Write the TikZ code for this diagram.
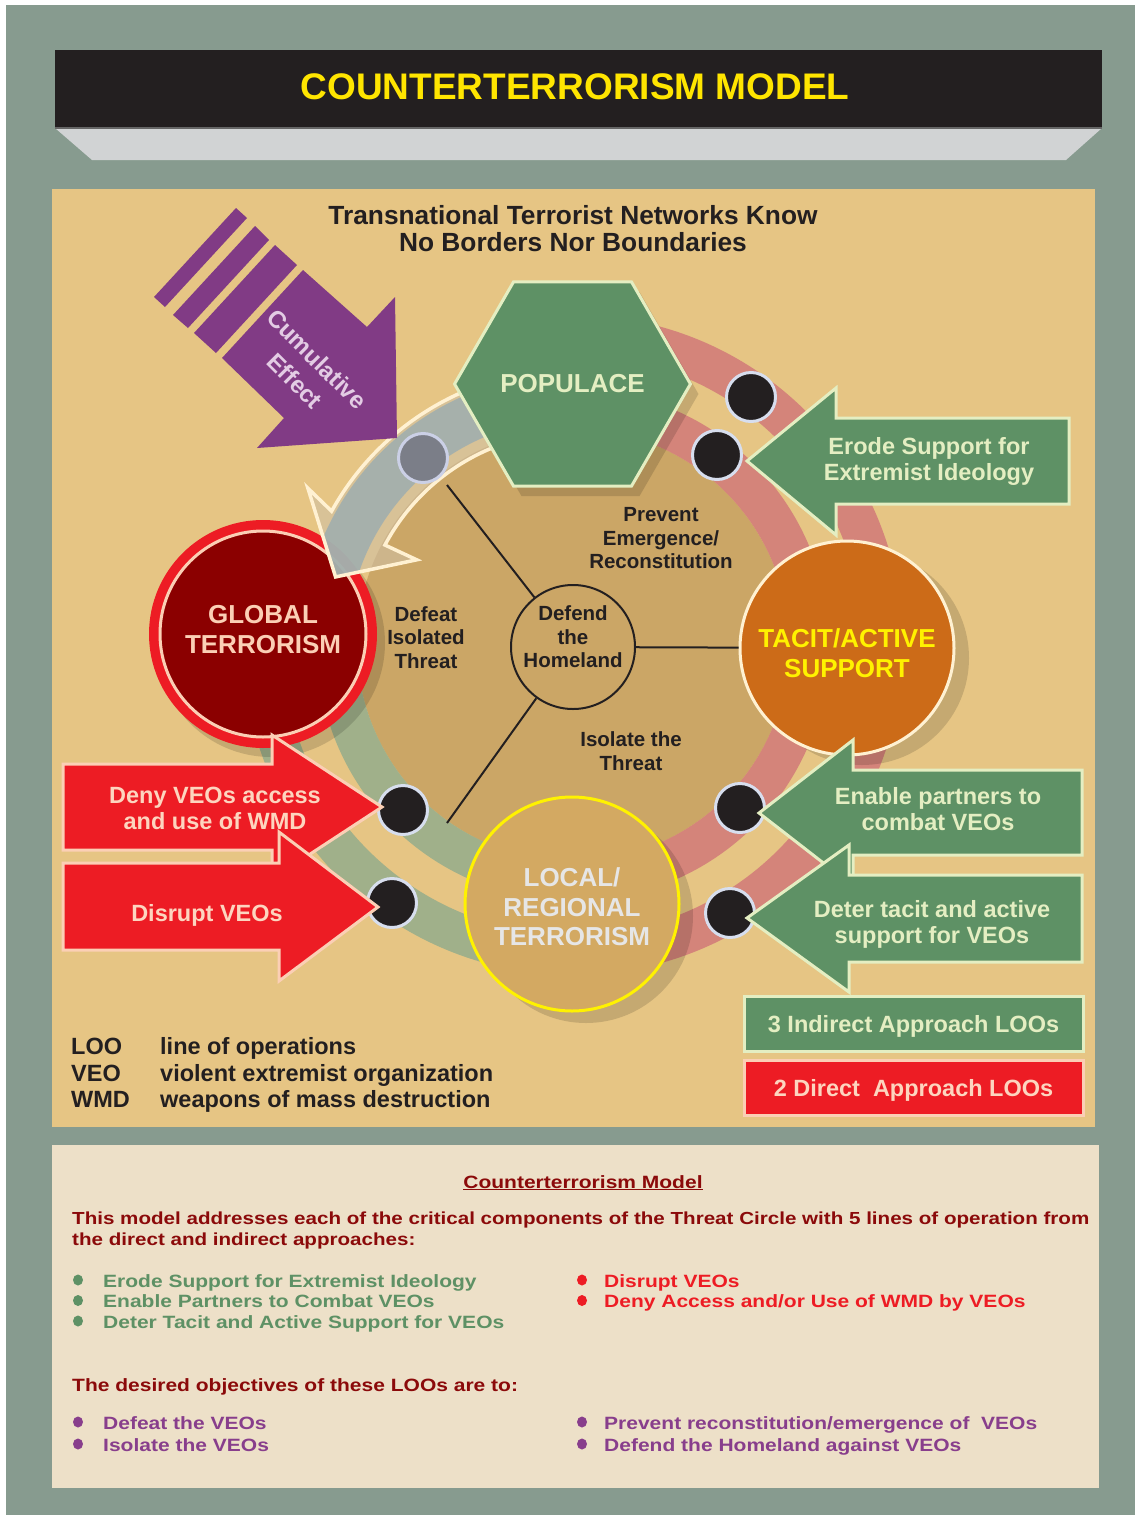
\documentclass[tikz,border=0pt]{standalone}
\usepackage{fontspec}
\setmainfont{Liberation Sans}
\newfontfamily\widefont[FakeStretch=1.18]{Liberation Sans}
\usetikzlibrary{shapes.geometric,shadows}

\definecolor{frame}{HTML}{879B8F}
\definecolor{ink}{HTML}{231F20}
\definecolor{titleyellow}{HTML}{FFE500}
\definecolor{ledge}{HTML}{D1D3D4}
\definecolor{sand}{HTML}{E6C584}
\definecolor{darksand}{HTML}{CBA666}
\definecolor{paper}{HTML}{EDE0C8}
\definecolor{pinkband}{HTML}{D4847A}
\definecolor{greenband}{HTML}{A0B08A}
\definecolor{blueband}{HTML}{A1AFAE}
\definecolor{veil}{HTML}{CFC0A5}
\definecolor{cream}{HTML}{FFF1D2}
\definecolor{leaf}{HTML}{5E9165}
\definecolor{pale}{HTML}{E4EEC2}
\definecolor{rust}{HTML}{CC6B18}
\definecolor{lemon}{HTML}{FFF200}
\definecolor{ochre}{HTML}{D3A962}
\definecolor{silver}{HTML}{E6E6E6}
\definecolor{blood}{HTML}{8B0000}
\definecolor{scarlet}{HTML}{ED1C24}
\definecolor{peach}{HTML}{FBCFB5}
\definecolor{blush}{HTML}{FDD5BF}
\definecolor{rim}{HTML}{D7DEEE}
\definecolor{slate}{HTML}{7B7E88}
\definecolor{slaterim}{HTML}{CBD0E6}
\definecolor{plum}{HTML}{813B85}
\definecolor{lilac}{HTML}{E3CCE4}
\definecolor{darkred}{HTML}{8B0A0A}
\definecolor{grape}{HTML}{883E8C}

\newcommand{\fsz}[2]{\fontsize{#1}{#2}\selectfont\bfseries}
\newcommand{\cumpath}{(252:276) arc[start angle=252, end angle=209, radius=276] -- (210.6:308) -- (196:247) -- (208.6:178) -- (208:213) arc[start angle=208, end angle=252, radius=213] -- cycle}

\tikzset{
  ringband/.style={line width=40},
  blackdot/.style={circle, fill=ink, draw=rim, line width=3, minimum size=49, inner sep=0},
  slatedot/.style={circle, fill=slate, draw=slaterim, line width=3, minimum size=49, inner sep=0},
  midtxt/.style={font=\fsz{20.5}{23.5}, text=ink, align=center, inner sep=0},
  arrtxt/.style={font=\fsz{23.5}{26}, align=center, inner sep=0},
  bigtxt/.style={font=\fsz{26}{29.5}, align=center, inner sep=0},
  capline/.style={text height=17pt, text depth=0pt},
  shade/.style 2 args={drop shadow={shadow xshift=#1pt, shadow yshift=-#2pt, opacity=.14, fill=black}},
  hexa/.style={regular polygon, regular polygon sides=6, minimum size=222, inner sep=0, outer sep=0, fill=leaf, draw=pale, line width=3, text=pale, bigtxt},
  tacitnode/.style={circle, minimum size=214, inner sep=0, fill=rust, draw=cream, line width=3},
  localnode/.style={circle, minimum size=214, inner sep=0, fill=ochre, draw=lemon, line width=3},
  globenode/.style={circle, minimum size=228, inner sep=0, fill=scarlet,
    path picture={\draw[peach, line width=3, fill=blood] (path picture bounding box.center) circle[radius=103];}},
  redarrow/.style={fill=scarlet, draw=peach, line width=3},
  greenarrow/.style={fill=leaf, draw=pale, line width=3},
  thinline/.style={draw=ink, line width=2},
  bottomtxt/.style={font=\widefont\fsz{17.8}{20.5}, align=left, inner sep=0}
}

\begin{document}
\begin{tikzpicture}[x=1pt,y=-1pt]
%cornice
\fill[white] (0,0) rectangle (1135,1515);
\fill[frame] (6,5) rectangle (1135,1515);
%titolo
\fill[ledge] (55,128) -- (1102,128) -- (1066,160) -- (92,160) -- cycle;
\fill[ink] (55,50) rectangle (1102,128);
\draw[black!60, line width=1.5] (55,128) -- (1102,128);
\node[font=\fsz{37}{40}, text=titleyellow] (title) at (575,87) {COUNTERTERRORISM MODEL};
%pannelli
\fill[sand] (52,189) rectangle (1095,1127);
\fill[paper] (52,1145) rectangle (1099,1488);

%anelli
\begin{scope}[shift={(573,645)}]
  \fill[darksand] (0,0) circle[radius=216];
  \draw[ringband, pinkband] (-95:236) arc[start angle=-95, end angle=95, radius=236];
  \draw[ringband, pinkband] (-95:310) arc[start angle=-95, end angle=95, radius=310];
  \draw[ringband, greenband] (85:236) arc[start angle=85, end angle=185, radius=236];
  \draw[ringband, greenband] (85:310) arc[start angle=85, end angle=185, radius=310];
\end{scope}

%centro
\node[circle, draw=ink, line width=2, minimum size=124, inner sep=0,
  label={[midtxt, yshift=10pt]center:{Defend\\the\\Homeland}}] (defend) at (573,647) {};
\coordinate (defeatend) at (447,485);
\coordinate (isolateend) at (447,823);
\node[midtxt] (prevent) at (661,538.5) {Prevent\\Emergence/\\Reconstitution};
\node[midtxt] (defeat) at (426,637.5) {Defeat\\Isolated\\Threat};
\node[midtxt] (isolate) at (631,751) {Isolate the\\Threat};

%nodi
\node[tacitnode, shade={15}{10},
  label={[bigtxt, text=lemon, yshift=-5pt]center:{TACIT/ACTIVE\\SUPPORT}}] (tacit) at (847,648) {};
\node[localnode, shade={14}{12},
  label={[bigtxt, text=silver, yshift=-3pt]center:{LOCAL/\\REGIONAL\\TERRORISM}}] (local) at (572,904) {};
\node[globenode, shade={8}{9},
  label={[bigtxt, text=peach, yshift=4.5pt]center:{GLOBAL\\TERRORISM}}] (global) at (263,634) {};

%freccia curva
\begin{scope}[shift={(573,645)}]
  \fill[veil, fill opacity=.6] \cumpath;
  \begin{scope}
    \clip \cumpath;
    \draw[blueband, line width=46, opacity=.9] (255:249) arc[start angle=255, end angle=190, radius=249];
  \end{scope}
  \draw[cream, line width=3.5] \cumpath;
\end{scope}

\node[hexa, shade={8}{10}] (populace) at (572.5,384) {POPULACE};
\draw[thinline] (defend) -- (defeatend) (defend) -- (tacit) (defend) -- (isolateend);

%punti
\node[slatedot] (hub) at (423,458) {};
\node[blackdot] (popout) at (751,397) {};
\node[blackdot] (popin) at (717,455) {};
\node[blackdot] (tacitin) at (740,808) {};
\node[blackdot] (tacitout) at (730,913) {};
\node[blackdot] (globin) at (403,810) {};
\node[blackdot] (globout) at (392,903) {};

%frecce dirette
\draw[redarrow] (63,764) -- (272,764) -- (272,735) -- (382,807) -- (272,879) -- (272,850) -- (63,850) -- cycle;
\node[arrtxt, text=blush] (deny) at (215,808) {Deny VEOs access\\and use of WMD};
\draw[redarrow] (63,863) -- (279,863) -- (279,832) -- (378,907) -- (279,981) -- (279,950) -- (63,950) -- cycle;
\node[arrtxt, capline, text=blush] (disrupt) at (207,913) {Disrupt VEOs};

%frecce indirette
\draw[greenarrow] (747,461) -- (836,388) -- (836,418) -- (1069,418) -- (1069,504) -- (836,504) -- (836,535) -- cycle;
\node[arrtxt, text=pale] (erode) at (929,461.5) {Erode Support for\\Extremist Ideology};
\draw[greenarrow] (759,813) -- (853,740) -- (853,770) -- (1082,770) -- (1082,855) -- (853,855) -- (853,886) -- cycle;
\node[arrtxt, text=pale] (enable) at (938,809.5) {Enable partners to\\combat VEOs};
\draw[greenarrow] (747,918) -- (849,845) -- (849,875) -- (1082,875) -- (1082,962) -- (849,962) -- (849,992) -- cycle;
\node[arrtxt, text=pale] (deter) at (932,924) {Deter tacit and active\\support for VEOs};

%legenda
\node[rectangle, fill=leaf, draw=pale, line width=3, minimum width=339, minimum height=55,
  arrtxt, capline, text=pale] (indirect) at (913.5,1023.5) {3 Indirect Approach LOOs};
\node[rectangle, fill=scarlet, draw=peach, line width=3, minimum width=339, minimum height=55,
  arrtxt, capline, text=blush] (direct) at (913.5,1087.5) {2 Direct\ \ Approach LOOs};

%effetto cumulativo
\fill[plum] (236,208) -- (247,218) -- (165,307) -- (154,297) -- cycle;
\fill[plum] (255,226) -- (269,240) -- (188,328) -- (173,315) -- cycle;
\fill[plum] (275,245) -- (297,265) -- (216,353) -- (194,333) -- cycle;
\fill[plum] (303,270) -- (367,327) -- (395,297) -- (397,438) -- (257,448) -- (284,418) -- (222,358) -- cycle;
\node[font=\fsz{24}{31}, text=lilac, align=center, rotate=-45] (cumul) at (306,370) {Cumulative\\Effect};

%testi
\node[font=\fsz{26.3}{27}, text=ink, align=center, inner sep=0] (headline) at (573,228.5)
  {Transnational Terrorist Networks Know\\No Borders Nor Boundaries};
\node[anchor=west, font=\fsz{23.5}{26.5}, text=ink, inner sep=0] (abbrev) at (71,1076)
  {\begin{tabular}{@{}p{89pt}@{}l@{}}
    LOO & line of operations\\
    VEO & violent extremist organization\\
    WMD & weapons of mass destruction
  \end{tabular}};

%pannello inferiore
\node[bottomtxt, anchor=base, text=darkred] (heading) at (583,1188) {\underline{Counterterrorism Model}};
\node[bottomtxt, anchor=north west, text=darkred, font=\widefont\fsz{17.45}{20.5}] (intro) at (72,1212)
  {This model addresses each of the critical components of the Threat Circle with 5 lines of operation from\\
   the direct and indirect approaches:};
\node[bottomtxt, anchor=north west, text=leaf] (indirectlist) at (103,1274)
  {Erode Support for Extremist Ideology\\Enable Partners to Combat VEOs\\Deter Tacit and Active Support for VEOs};
\node[bottomtxt, anchor=north west, text=scarlet] (directlist) at (604,1274)
  {Disrupt VEOs\\Deny Access and/or Use of WMD by VEOs};
\node[bottomtxt, anchor=base west, text=darkred] (goals) at (72,1391) {The desired objectives of these LOOs are to:};
\node[bottomtxt, anchor=north west, text=grape, font=\widefont\fsz{17.8}{22}] (goalsleft) at (103,1416)
  {Defeat the VEOs\\Isolate the VEOs};
\node[bottomtxt, anchor=north west, text=grape, font=\widefont\fsz{17.8}{22}] (goalsright) at (604,1416)
  {Prevent reconstitution/emergence of\ \ VEOs\\Defend the Homeland against VEOs};
\foreach \y in {1280,1300.5,1321} \fill[leaf] (78,\y) ellipse[x radius=5, y radius=5.5];
\foreach \y in {1280,1300.5} \fill[scarlet] (582,\y) ellipse[x radius=5, y radius=5.5];
\foreach \y in {1422,1444} {
  \fill[grape] (78,\y) ellipse[x radius=5, y radius=5.5];
  \fill[grape] (582,\y) ellipse[x radius=5, y radius=5.5];
}
\end{tikzpicture}
\end{document}
